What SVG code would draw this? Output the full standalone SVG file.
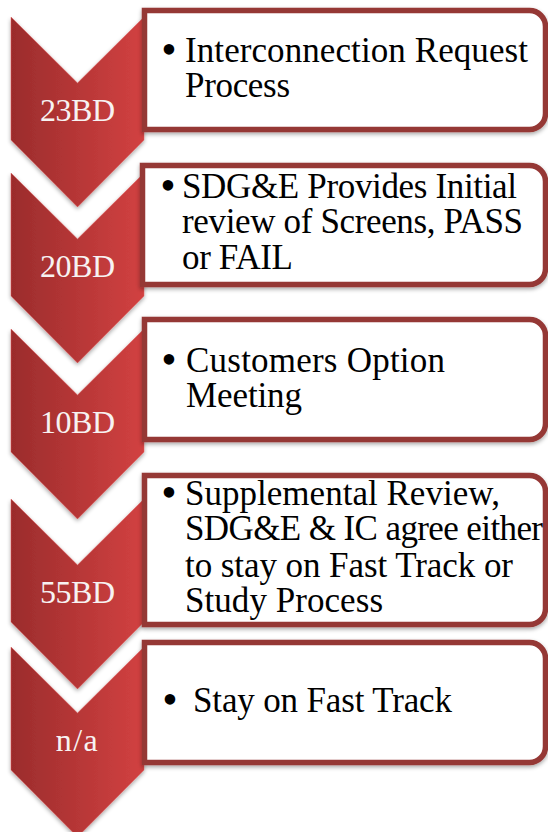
<svg xmlns="http://www.w3.org/2000/svg" width="548" height="832" viewBox="0 0 548 832">
  <defs>
    <linearGradient id="chevFill" x1="0" y1="0" x2="1" y2="0">
      <stop offset="0" stop-color="#9b2c2c"/>
      <stop offset="1" stop-color="#d24141"/>
    </linearGradient>
    <filter id="soft" x="-10%" y="-10%" width="120%" height="120%">
      <feGaussianBlur in="SourceAlpha" stdDeviation="2.2"/>
      <feOffset dx="0" dy="1.5" result="b"/>
      <feComponentTransfer><feFuncA type="linear" slope="0.35"/></feComponentTransfer>
      <feMerge><feMergeNode/><feMergeNode in="SourceGraphic"/></feMerge>
    </filter>
    <!-- chevron shape, top at y=0 -->
    <polygon id="chev" points="11,0 77.5,66 144,0 144,123 77.5,190 11,123"/>
  </defs>
  <style>
    .chev { fill: url(#chevFill); stroke: #e05a5a; stroke-width: 0.8; stroke-opacity: 0.6; filter: url(#soft); }
    .box { fill: #ffffff; stroke: #953735; stroke-width: 5.5; filter: url(#soft); }
    .lbl { font-family: "Liberation Serif", "Times New Roman", serif; font-size: 32px; fill: #f7f2f2; text-anchor: middle; }
    .txt { font-family: "Liberation Serif", "Times New Roman", serif; font-size: 35px; fill: #000000; }
    .bul { font-family: "Liberation Serif", "Times New Roman", serif; font-size: 44px; fill: #000000; text-anchor: middle; }
  </style>

  <g id="step1">
    <use href="#chev" class="chev" transform="translate(0,17)"/>
    <text class="lbl" x="77.5" y="121" textLength="75">23BD</text>
    <path class="box" d="M144.5,10.5 H529.5 A16,16 0 0 1 545.5,26.5 V113.5 A16,16 0 0 1 529.5,129.5 H144.5 Z"/>
    <text class="bul" x="169" y="64">•</text>
    <text class="txt" x="185" y="62" textLength="343">Interconnection Request</text>
    <text class="txt" x="185" y="97" textLength="105">Process</text>
  </g>

  <g id="step2">
    <use href="#chev" class="chev" transform="translate(0,173)"/>
    <text class="lbl" x="77.5" y="277" textLength="75">20BD</text>
    <path class="box" d="M142.5,165.5 H529.5 A16,16 0 0 1 545.5,181.5 V268.5 A16,16 0 0 1 529.5,284.5 H142.5 Z"/>
    <text class="bul" x="168" y="200">•</text>
    <text class="txt" x="182" y="198" textLength="335">SDG&amp;E Provides Initial</text>
    <text class="txt" x="182" y="233" textLength="341">review of Screens, PASS</text>
    <text class="txt" x="182" y="269" textLength="111">or FAIL</text>
  </g>

  <g id="step3">
    <use href="#chev" class="chev" transform="translate(0,329)"/>
    <text class="lbl" x="77.5" y="433" textLength="75">10BD</text>
    <path class="box" d="M144.5,319.5 H529.5 A16,16 0 0 1 545.5,335.5 V423.5 A16,16 0 0 1 529.5,439.5 H144.5 Z"/>
    <text class="bul" x="169" y="374">•</text>
    <text class="txt" x="186" y="372" textLength="259">Customers Option</text>
    <text class="txt" x="186" y="407" textLength="116">Meeting</text>
  </g>

  <g id="step4">
    <use href="#chev" class="chev" transform="translate(0,499)"/>
    <text class="lbl" x="77.5" y="603" textLength="75">55BD</text>
    <path class="box" d="M144.5,475.5 H529.5 A16,16 0 0 1 545.5,491.5 V608.5 A16,16 0 0 1 529.5,624.5 H144.5 Z"/>
    <text class="bul" x="169" y="507">•</text>
    <text class="txt" x="185" y="505" textLength="315">Supplemental Review,</text>
    <text class="txt" x="185" y="540" textLength="358">SDG&amp;E &amp; IC agree either</text>
    <text class="txt" x="185" y="577" textLength="328">to stay on Fast Track or</text>
    <text class="txt" x="185" y="612" textLength="198">Study Process</text>
  </g>

  <g id="step5">
    <use href="#chev" class="chev" transform="translate(0,647)"/>
    <text class="lbl" x="77.5" y="751" letter-spacing="1.5">n/a</text>
    <path class="box" d="M144.5,642.5 H529.5 A16,16 0 0 1 545.5,658.5 V746.5 A16,16 0 0 1 529.5,762.5 H144.5 Z"/>
    <text class="bul" x="170" y="714">•</text>
    <text class="txt" x="193" y="712" textLength="259">Stay on Fast Track</text>
  </g>

  <g id="connectors"/>
</svg>
